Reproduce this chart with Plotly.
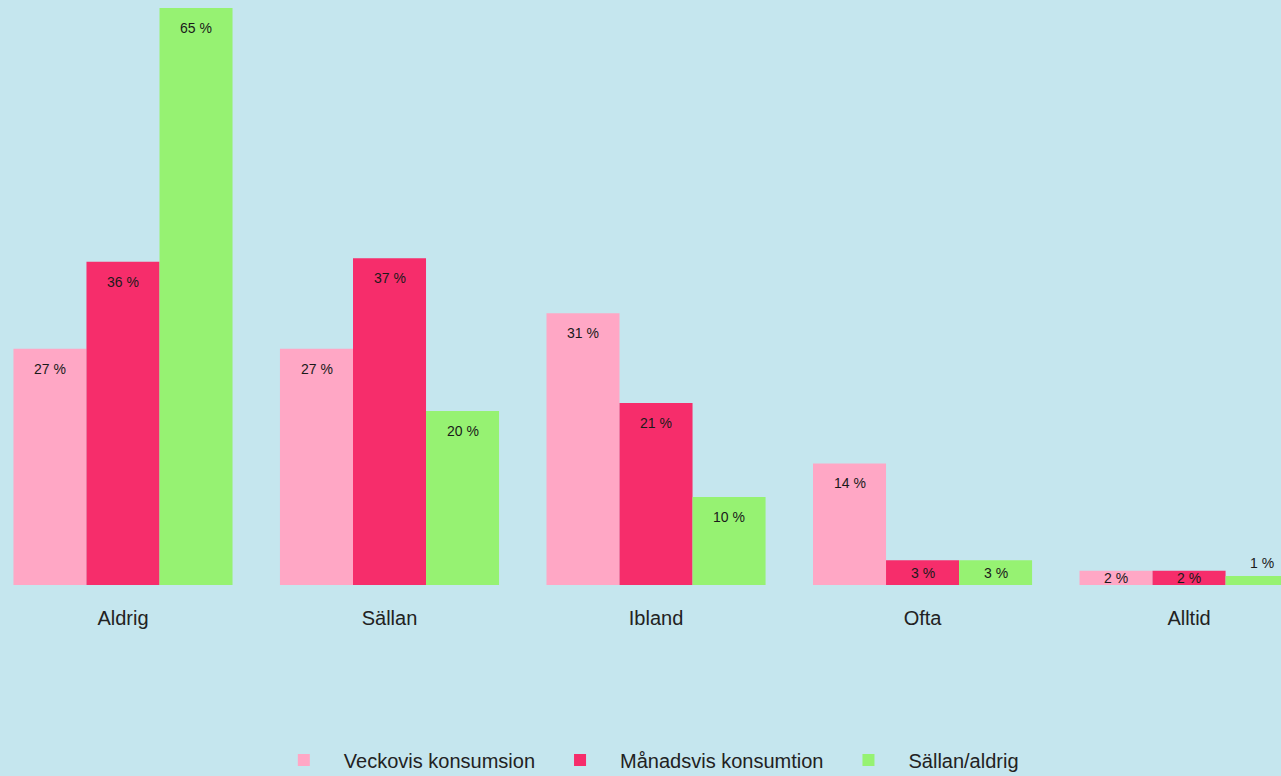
import plotly.graph_objects as go

categories = ["Aldrig", "Sällan", "Ibland", "Ofta", "Alltid"]
series_names = ["Veckovis konsumsion", "Månadsvis konsumtion", "Sällan/aldrig"]
veckovis = [26.6, 26.6, 30.6, 13.7, 1.6]
manadsvis = [36.4, 36.8, 20.5, 2.8, 1.6]
sallan_aldrig = [65.0, 19.6, 9.9, 2.8, 1.0]
labels_veckovis = ["27 %", "27 %", "31 %", "14 %", "2 %"]
labels_manadsvis = ["36 %", "37 %", "21 %", "3 %", "2 %"]
labels_sallan = ["65 %", "20 %", "10 %", "3 %", "1 %"]

colors = ["#FFA7C5", "#F62D6B", "#96F272"]
bg = "#C5E6EE"
FONT = "Liberation Sans, Arial, sans-serif"

values = [veckovis, manadsvis, sallan_aldrig]
labels = [labels_veckovis, labels_manadsvis, labels_sallan]

fig = go.Figure()
for name, vals, col in zip(series_names, values, colors):
    fig.add_trace(go.Bar(
        name=name, x=categories, y=vals,
        marker=dict(color=col, line=dict(width=0)),
        hoverinfo="x+y+name",
    ))

BAR_PX = 73
annotations = []
for i, (vals, labs) in enumerate(zip(values, labels)):
    for cat, v, lab in zip(categories, vals, labs):
        if v >= 5:
            y, ya, ys = v, "middle", -20
        elif v >= 1.5:
            y, ya, ys = v / 2, "middle", 0
        else:
            y, ya, ys = v, "bottom", 3
        annotations.append(dict(
            x=cat, y=y, xref="x", yref="y", text=lab, showarrow=False,
            xshift=(i - 1) * BAR_PX, yshift=ys, yanchor=ya, xanchor="center",
            font=dict(family=FONT, size=14, color="#1a1a1a"),
        ))

fig.update_layout(
    width=1281, height=776,
    paper_bgcolor=bg, plot_bgcolor=bg,
    barmode="group", bargap=0.178, bargroupgap=0,
    margin=dict(l=0, r=0, t=0, b=191, autoexpand=False),
    font=dict(family=FONT, color="#222222"),
    xaxis=dict(
        type="category", range=[-0.4615, 4.345], automargin=False,
        showgrid=False, zeroline=False, showline=False,
        ticks="", ticklabelstandoff=19,
        tickfont=dict(family=FONT, size=20, color="#222222"),
    ),
    yaxis=dict(range=[0, 65.9], visible=False, showgrid=False, zeroline=False,
               automargin=False),
    showlegend=True,
    legend=dict(
        orientation="h", x=0.5026, xanchor="center",
        yref="container", y=0.0206, yanchor="middle",
        font=dict(family=FONT, size=20, color="#222222"),
        bgcolor="rgba(0,0,0,0)", itemwidth=70, traceorder="normal",
    ),
    annotations=annotations,
)

fig.write_html(
    "out.html",
    config={"displayModeBar": False},
    post_script="document.body.style.margin='0';document.body.style.background='" + bg + "';",
)
